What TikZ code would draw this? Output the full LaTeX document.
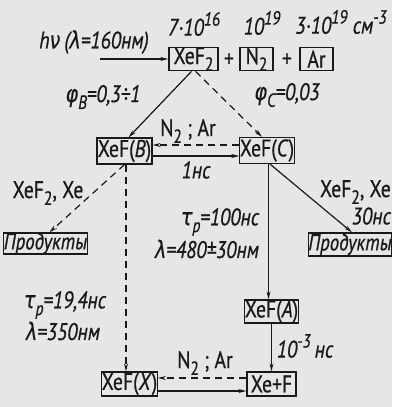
\documentclass[tikz,border=0pt]{standalone}
\usepackage{fontspec}
\setmainfont{PT Sans}[FakeStretch=0.82,FakeBold=0.6]
\newfontfamily\grk{DejaVu Sans}[FakeStretch=0.8,FakeBold=0.4]
\usetikzlibrary{arrows.meta,calc}
\definecolor{bg}{RGB}{230,230,228}
\definecolor{ink}{RGB}{25,25,25}
\newcommand{\grkit}[1]{{\grk\itshape #1}}
\newcommand{\sups}[1]{\raisebox{0.42em}{\fontsize{19}{19}\selectfont #1}}
\newcommand{\subs}[1]{\raisebox{-0.28em}{\fontsize{19}{19}\selectfont #1}}
\begin{document}
\begin{tikzpicture}[x=1pt,y=-1pt,
 font=\fontsize{24}{26}\selectfont,
 box/.style={draw=ink, line width=1.2pt, inner sep=0pt, minimum height=23pt, text=ink},
 lbl/.style={text=ink, font=\fontsize{24}{26}\selectfont\itshape, inner sep=0pt},
 ulbl/.style={text=ink, inner sep=0pt},
 arr/.style={draw=ink, line width=1.2pt, -{Stealth[length=8pt,width=4pt]}},
 darr/.style={arr, dash pattern=on 7pt off 5pt}]
\fill[bg] (0,0) rectangle (392,407);
\useasboundingbox (0,0) rectangle (392,407);

% boxes
\node[box, minimum width=49pt] (xef2) at (193.5,59) {XeF\subs{2}};
\node[ulbl] (p1) at (229,60) {+};
\node[box, minimum width=33pt] (n2) at (256.5,59) {N\subs{2}};
\node[ulbl] (p2) at (287,60) {+};
\node[box, minimum width=33pt] (ar) at (316.5,59) {Ar};
\node[box, minimum width=55pt, minimum height=26pt] (B) at (124.5,151) {XeF(\textit{B})};
\node[box, minimum width=50pt, minimum height=26pt] (C) at (267,150.5) {XeF(\textit{C})};
\node[box, minimum width=81pt, minimum height=21pt, font=\fontsize{23}{24}\selectfont\itshape] (pl) at (45.5,243.5) {Продукты};
\node[box, minimum width=80pt, minimum height=23pt, font=\fontsize{23}{24}\selectfont\itshape] (pr) at (350,244.5) {Продукты};
\node[box, minimum width=49pt] (A) at (271.5,311.5) {XeF(\textit{A})};
\node[box, minimum width=53pt, minimum height=24pt] (X) at (129.5,384) {XeF(\textit{X})};
\node[box, minimum width=49pt, minimum height=24pt] (XF) at (271.5,384) {Xe+F};

% labels
\node[lbl] (l1) at (194,24) {7·10\sups{16}};
\node[lbl] (l2) at (262,23) {10\sups{19}};
\node[lbl] (l3) at (341,22) {3·10\sups{19} см\sups{-3}};
\node[lbl] (hv) at (94,42) {h\grkit{ν}\,(\grkit{λ}=160нм)};
\node[lbl] (phB) at (103,97) {\grkit{φ}\subs{B}=0,3÷1};
\node[lbl] (phC) at (287,95) {\grkit{φ}\subs{C}=0,03};
\node[ulbl] (na1) at (188,131) {N\subs{2} ; Ar};
\node[lbl] (t1) at (196,170) {1нс};
\node[ulbl] (ql) at (48,193) {XeF\subs{2}, Xe};
\node[ulbl, anchor=east] (qr) at (391,192) {XeF\subs{2}, Xe};
\node[lbl, anchor=east] (t30) at (391,216) {30нс};
\node[lbl] (tp1) at (220,222) {\grkit{τ}\subs{p}=100нс};
\node[lbl] (lam1) at (207,249) {\grkit{λ}=480±30нм};
\node[lbl] (t3) at (305,346) {10\sups{-3}\,нс};
\node[lbl] (tp2) at (65,305) {\grkit{τ}\subs{p}=19,4нс};
\node[lbl] (lam2) at (63,331) {\grkit{λ}=350нм};
\node[ulbl] (na2) at (205,363) {N\subs{2} ; Ar};

% connectors
\coordinate (hs) at (100,59);
\draw[arr] (hs) -- (xef2.west);
\draw[arr] ([xshift=-2pt]xef2.south) -- ([xshift=4pt]B.north);
\draw[darr] ([xshift=2pt]xef2.south) -- ([xshift=-5pt]C.north);
\draw[darr] (C.west |- 0,145) -- (B.east |- 0,145);
\draw[arr] (B.east |- 0,156) -- (C.west |- 0,156);
\draw[darr] (B.south) -- ([xshift=4pt]pl.north);
\draw[arr] ([xshift=3pt]C.south) -- ([xshift=2pt]pr.north);
\draw[arr] ([xshift=1.5pt]C.south) -- ([xshift=1.5pt]C.south |- A.north);
\draw[darr] ([xshift=1.5pt]B.south) -- ([xshift=1.5pt]B.south |- X.north);
\draw[arr] (A.south) -- (XF.north);
\draw[darr] (XF.west |- 0,378) -- (X.east |- 0,378);
\draw[arr] (X.east |- 0,391) -- (XF.west |- 0,391);
\end{tikzpicture}
\end{document}
